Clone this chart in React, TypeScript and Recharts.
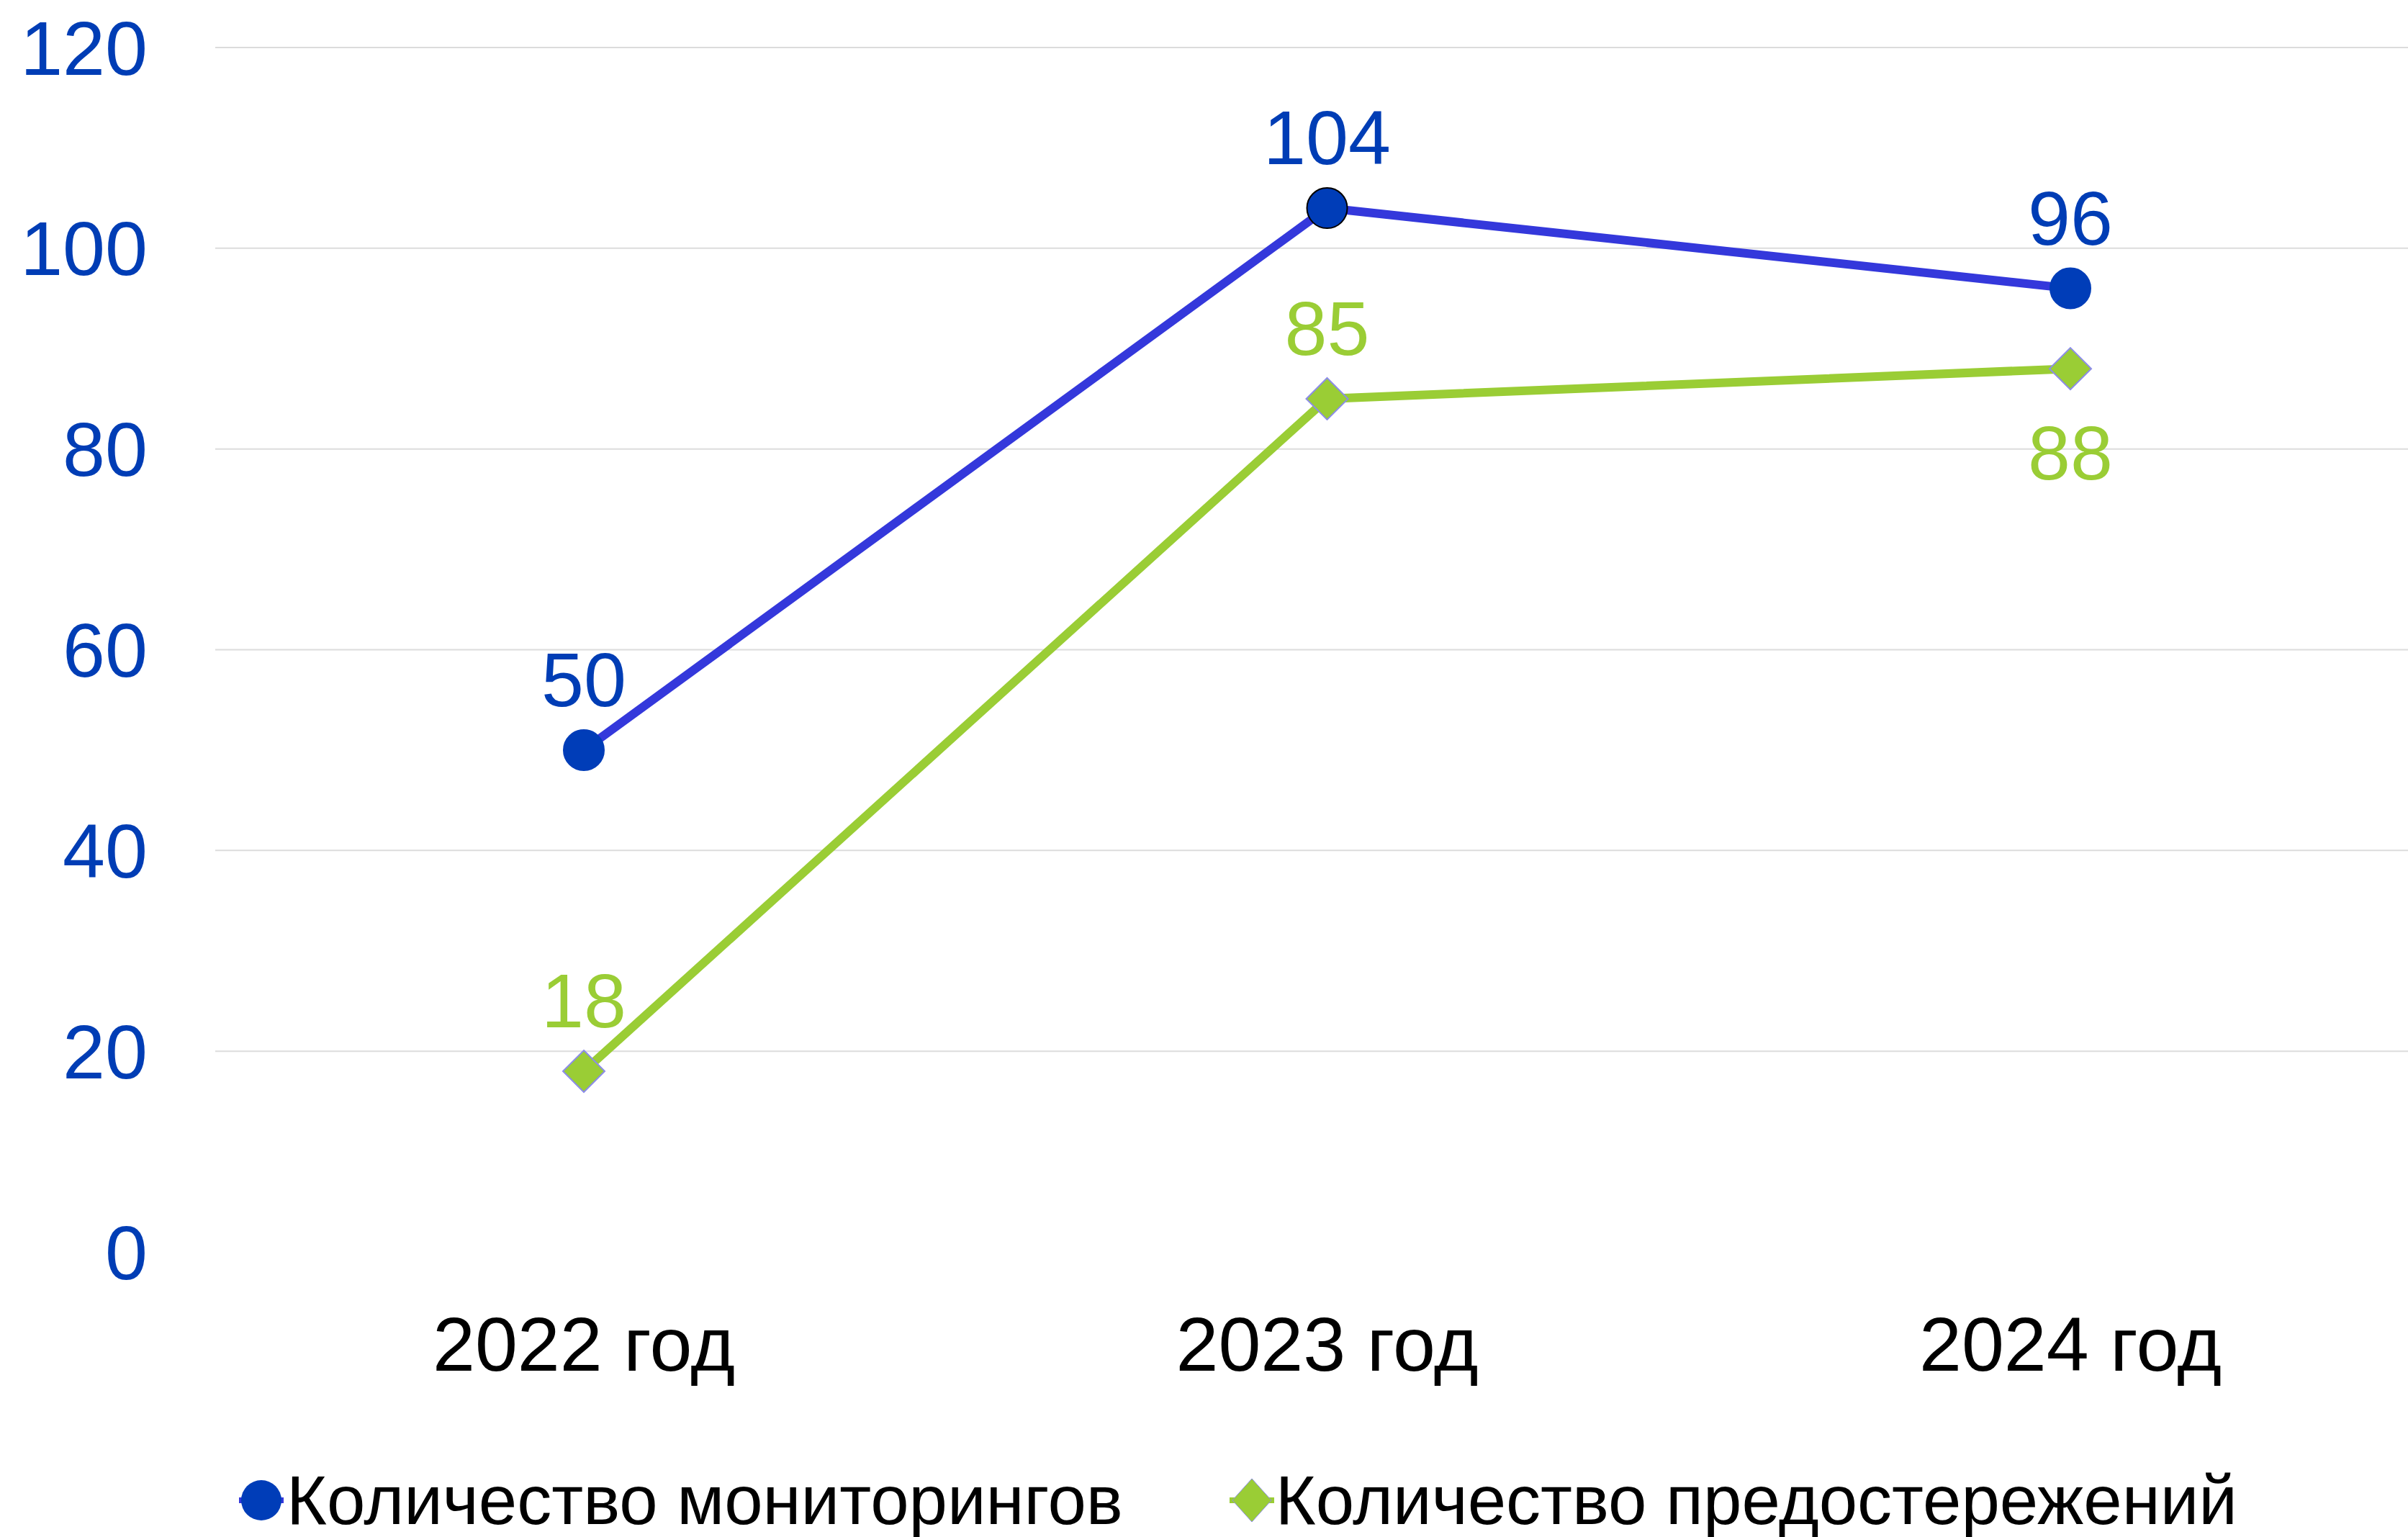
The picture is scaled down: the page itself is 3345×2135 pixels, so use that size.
import React from 'react';
import { LineChart, Line, XAxis, YAxis, ReferenceLine, Legend, LabelList } from 'recharts';

const categories = ['2022 год', '2023 год', '2024 год'];
const monitorings = [50, 104, 96];
const warnings = [18, 85, 88];
const yTicks = [0, 20, 40, 60, 80, 100, 120];
const gridValues = [20, 40, 60, 80, 100, 120];
const seriesNames = ['Количество мониторингов', 'Количество предостережений'];

const data = categories.map((c, i) => ({ name: c, m: monitorings[i], w: warnings[i] }));

const FONT = '"Liberation Sans", Arial, sans-serif';
const BLUE_LINE = '#3438DB';
const BLUE_DOT = '#003DB8';
const BLUE_TEXT = '#003DB5';
const GREEN = '#9ACD35';
const DIAMOND_STROKE = '#8C8CE8';

const BlueDot = (props: any) => {
  const { cx, cy, index } = props;
  if (cx == null || cy == null) return null;
  return (
    <circle key={'bd' + index} cx={cx} cy={cy} r={28} fill={BLUE_DOT}
      stroke={index === 1 ? '#000' : BLUE_DOT} strokeWidth={2} />
  );
};

const GreenDot = (props: any) => {
  const { cx, cy, index } = props;
  if (cx == null || cy == null) return null;
  const s = 29;
  return (
    <polygon key={'gd' + index}
      points={`${cx},${cy - s} ${cx + s},${cy} ${cx},${cy + s} ${cx - s},${cy}`}
      fill={GREEN} stroke={DIAMOND_STROKE} strokeWidth={2} />
  );
};

const makeLabel = (color: string, belowIndex: number) => (props: any) => {
  const { x, y, value, index } = props;
  const dy = index === belowIndex ? 117 : -98;
  return (
    <text key={'l' + color + index} x={x} y={y + dy} textAnchor="middle" dominantBaseline="central"
      fill={color} fontSize={106} fontFamily={FONT}>{value}</text>
  );
};

const renderLegend = () => (
  <div style={{ height: 102, display: 'flex', alignItems: 'center', paddingLeft: 332, fontFamily: FONT, fontSize: 96, color: '#000', whiteSpace: 'nowrap' }}>
    <div style={{ display: 'flex', alignItems: 'center', marginRight: 148 }}>
      <svg width={62} height={60} style={{ display: 'block', marginRight: 4 }}>
        <line x1={0} y1={30} x2={62} y2={30} stroke={BLUE_LINE} strokeWidth={8} />
        <circle cx={31} cy={30} r={28} fill={BLUE_DOT} />
      </svg>
      <span style={{ lineHeight: 1 }}>{seriesNames[0]}</span>
    </div>
    <div style={{ display: 'flex', alignItems: 'center' }}>
      <svg width={62} height={64} style={{ display: 'block', marginRight: 2 }}>
        <line x1={0} y1={32} x2={62} y2={32} stroke={GREEN} strokeWidth={8} />
        <polygon points="31,2 58,32 31,62 4,32" fill={GREEN} stroke={DIAMOND_STROKE} strokeWidth={1} />
      </svg>
      <span style={{ lineHeight: 1 }}>{seriesNames[1]}</span>
    </div>
  </div>
);

export default function App() {
  return (
    <div style={{ position: 'absolute', left: 0, top: 0, width: 3345, height: 2135, background: '#fff' }}>
      <LineChart width={3345} height={2135} data={data} margin={{ top: 66, right: 0, left: 0, bottom: 0 }}>
        {gridValues.map((v) => (
          <ReferenceLine key={v} y={v} stroke="#DCDCDC" strokeWidth={2} />
        ))}
        <XAxis dataKey="name" axisLine={false} tickLine={false} tickSize={0} tickMargin={90}
          height={294} interval={0} padding={{ left: 512, right: 469 }}
          tick={{ fill: '#000', fontSize: 106, fontFamily: FONT }} />
        <YAxis domain={[0, 120]} ticks={yTicks} width={299} axisLine={false} tickLine={false}
          tickSize={0} tickMargin={94} interval={0}
          tick={{ fill: BLUE_TEXT, fontSize: 106, fontFamily: FONT }} />
        <Legend verticalAlign="bottom" height={102} content={renderLegend} />
        <Line dataKey="m" name={seriesNames[0]} stroke={BLUE_LINE} strokeWidth={12}
          dot={BlueDot} activeDot={false} isAnimationActive={false}>
          <LabelList dataKey="m" content={makeLabel(BLUE_TEXT, -1)} />
        </Line>
        <Line dataKey="w" name={seriesNames[1]} stroke={GREEN} strokeWidth={12}
          dot={GreenDot} activeDot={false} isAnimationActive={false}>
          <LabelList dataKey="w" content={makeLabel(GREEN, 2)} />
        </Line>
      </LineChart>
    </div>
  );
}
